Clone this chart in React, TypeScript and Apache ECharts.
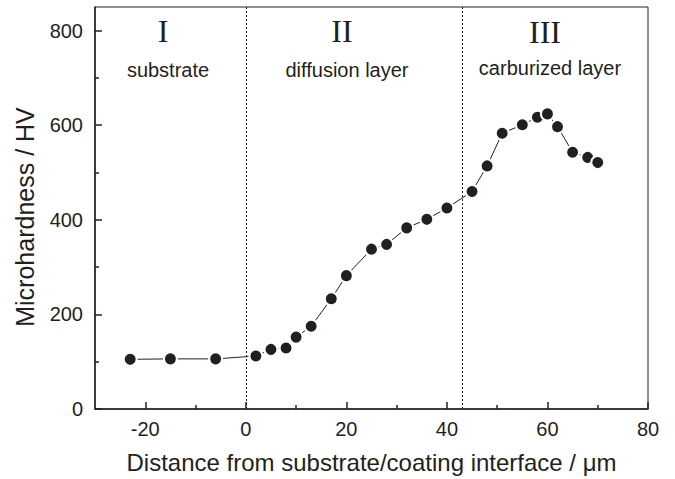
import React, { useEffect, useRef } from "react";
import * as echarts from "echarts";

// Microhardness profile across the substrate / coating interface
const distance = [-23, -15, -6, 2, 5, 8, 10, 13, 17, 20, 25, 28, 32, 36, 40, 45, 48, 51, 55, 58, 60, 62, 65, 68, 70];
const hardness = [105, 106, 106, 112, 126, 129, 152, 175, 233, 282, 338, 348, 383, 401, 425, 460, 514, 583, 601, 617, 624, 597, 543, 532, 521];

// Zone boundaries (µm)
const boundaries = [0, 43];

// Tick positions
const xMajorTicks = [-20, 0, 20, 40, 60, 80];
const xMinorTicks = [-10, 10, 30, 50, 70];
const yMajorTicks = [0, 200, 400, 600, 800];
const yMinorTicks = [100, 300, 500, 700];

const INK = "#231f20";
const SANS = "'Liberation Sans', Arial, sans-serif";
const SERIF = "'Liberation Serif', 'Times New Roman', serif";

export default function App() {
  const ref = useRef<HTMLDivElement>(null);

  useEffect(() => {
    if (!ref.current) return;
    const chart = echarts.init(ref.current, null, { renderer: "svg" });

    const xBase = { type: "value", min: -30, max: 80, position: "bottom" };
    const yBase = { type: "value", min: 0, max: 850, position: "left" };

    chart.setOption({
      animation: false,
      backgroundColor: "#fff",
      grid: {
        left: 95,
        right: 27,
        top: 7,
        bottom: 66,
        show: true,
        borderColor: INK,
        borderWidth: 1,
        backgroundColor: "transparent",
      },
      xAxis: [
        {
          ...xBase,
          name: "Distance from substrate/coating interface / \u03bcm",
          nameLocation: "middle",
          nameGap: 41,
          nameTextStyle: { fontFamily: SANS, fontSize: 24, color: INK },
          axisLine: { show: true, onZero: false, lineStyle: { color: INK, width: 1.5 } },
          axisTick: { show: true, inside: true, length: 7, customValues: xMajorTicks, lineStyle: { color: INK, width: 1.5 } },
          axisLabel: { show: true, customValues: xMajorTicks, margin: 10, fontFamily: SANS, fontSize: 20, color: INK },
          splitLine: { show: false },
        },
        {
          ...xBase,
          axisLine: { show: false, onZero: false },
          axisTick: { show: true, inside: true, length: 4, customValues: xMinorTicks, lineStyle: { color: INK, width: 1.5 } },
          axisLabel: { show: false },
          splitLine: { show: false },
        },
      ],
      yAxis: [
        {
          ...yBase,
          axisLine: { show: true, onZero: false, lineStyle: { color: INK, width: 1.5 } },
          axisTick: { show: true, inside: true, length: 7, customValues: yMajorTicks, lineStyle: { color: INK, width: 1.5 } },
          axisLabel: { show: true, customValues: yMajorTicks, margin: 12, fontFamily: SANS, fontSize: 20, color: INK },
          splitLine: { show: false },
        },
        {
          ...yBase,
          axisLine: { show: false, onZero: false },
          axisTick: { show: true, inside: true, length: 4, customValues: yMinorTicks, lineStyle: { color: INK, width: 1.5 } },
          axisLabel: { show: false },
          splitLine: { show: false },
        },
      ],
      series: [
        {
          type: "line",
          xAxisIndex: 0,
          yAxisIndex: 0,
          data: distance.map((d, i) => [d, hardness[i]]),
          lineStyle: { color: INK, width: 1 },
          symbol: "circle",
          symbolSize: 13,
          itemStyle: { color: INK, borderColor: "#fff", borderWidth: 2 },
          markLine: {
            silent: true,
            symbol: ["none", "none"],
            label: { show: false },
            lineStyle: { color: INK, width: 1, type: [2, 2] },
            data: boundaries.map((b) => ({ xAxis: b })),
          },
          z: 3,
        },
      ],
      graphic: [
        {
          type: "text",
          x: 25,
          y: 217,
          rotation: Math.PI / 2,
          style: { text: "Microhardness / HV", fontFamily: SANS, fontSize: 25, fill: INK, align: "center", verticalAlign: "middle" },
        },
        { type: "text", x: 163, y: 31, style: { text: "I", fontFamily: SERIF, fontSize: 32, fill: INK, align: "center", verticalAlign: "middle" } },
        { type: "text", x: 342, y: 31, style: { text: "II", fontFamily: SERIF, fontSize: 32, fill: INK, align: "center", verticalAlign: "middle" } },
        { type: "text", x: 545, y: 32, style: { text: "III", fontFamily: SERIF, fontSize: 32, fill: INK, align: "center", verticalAlign: "middle" } },
        { type: "text", x: 168, y: 70, style: { text: "substrate", fontFamily: SANS, fontSize: 20, fill: INK, align: "center", verticalAlign: "middle" } },
        { type: "text", x: 347, y: 70, style: { text: "diffusion layer", fontFamily: SANS, fontSize: 20, fill: INK, align: "center", verticalAlign: "middle" } },
        { type: "text", x: 550, y: 68, style: { text: "carburized layer", fontFamily: SANS, fontSize: 20, fill: INK, align: "center", verticalAlign: "middle" } },
      ],
    });

    return () => chart.dispose();
  }, []);

  return (
    <div
      ref={ref}
      style={{ position: "fixed", left: 0, top: 0, width: 675, height: 479, background: "#fff" }}
    />
  );
}
